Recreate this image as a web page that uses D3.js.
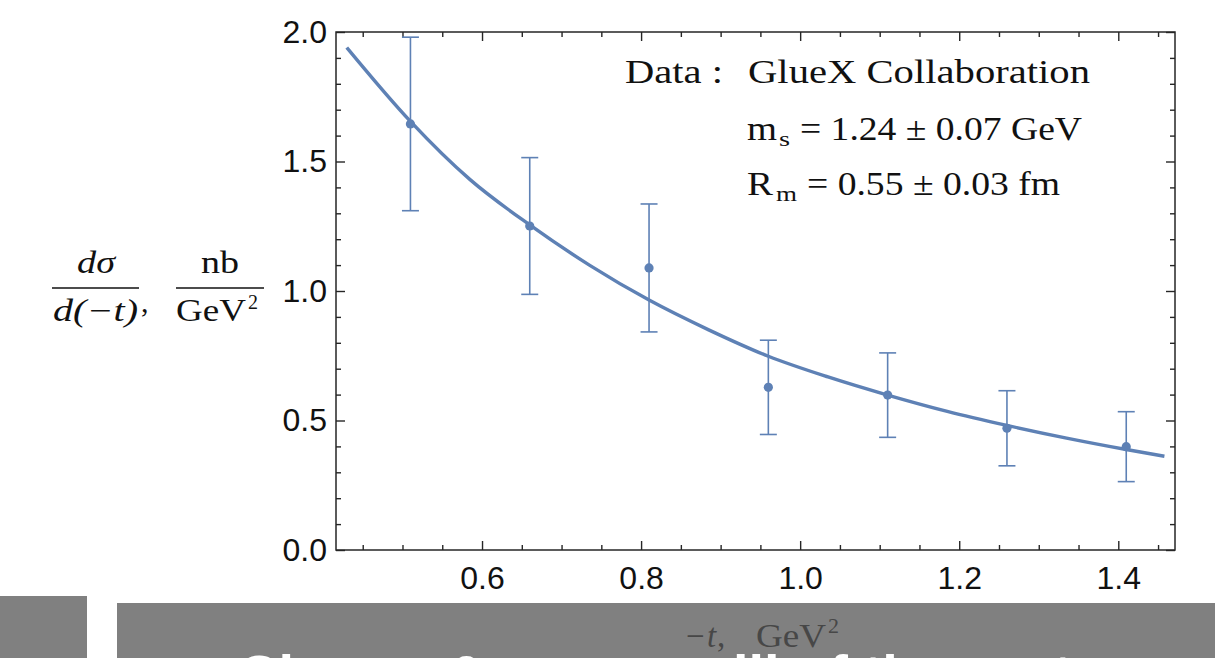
<!DOCTYPE html>
<html>
<head>
<meta charset="utf-8">
<script src="https://cdn.jsdelivr.net/npm/d3@7"></script>
<style>
  html, body { margin: 0; padding: 0; background: #fff; }
  svg { display: block; overflow: hidden; }
</style>
</head>
<body>
<div id="chart"></div>
<script>
// GlueX dσ/d(-t) data with fitted curve

// data points
const tVals   = [0.51, 0.66, 0.81, 0.96, 1.11, 1.26, 1.41];
const dsVals  = [1.645, 1.251, 1.089, 0.628, 0.598, 0.470, 0.399];
const dsErr   = [0.335, 0.264, 0.247, 0.182, 0.163, 0.145, 0.135];

// fit curve
const fitT    = [0.43, 0.51, 0.585, 0.66, 0.735, 0.81, 0.885, 0.96, 1.035, 1.11, 1.185, 1.26, 1.335, 1.41, 1.458];
const fitVals = [1.94, 1.655, 1.43, 1.255, 1.10, 0.965, 0.85, 0.748, 0.668, 0.598, 0.535, 0.481, 0.432, 0.388, 0.362];

// ticks
const xMajor = [0.6, 0.8, 1.0, 1.2, 1.4];
const yMajor = [0.0, 0.5, 1.0, 1.5, 2.0];
const xMinor = d3.range(0.45, 1.46, 0.05).map(v => +v.toFixed(2)).filter(v => !xMajor.some(m => Math.abs(m - v) < 1e-6));
const yMinor = d3.range(0.1, 2.0, 0.1).map(v => +v.toFixed(2)).filter(v => !yMajor.some(m => Math.abs(m - v) < 1e-6));

const W = 1215, H = 658;
const L = 336, R = 1175, T = 32, B = 550;
const blue = '#5E81B5';
const frameCol = '#262626';
const serif = '"Liberation Serif", "Times New Roman", serif';
const sans = '"Liberation Sans", Arial, sans-serif';

const svg = d3.select('#chart').append('svg').attr('width', W).attr('height', H);

const x = d3.scaleLinear().domain([0.4164, 1.4713]).range([L, R]);
const y = d3.scaleLinear().domain([0, 2]).range([B, T]);

// axes (ticks inward)
function styleAxis(g) {
  g.select('.domain').remove();
  g.selectAll('line').attr('stroke', frameCol).attr('stroke-width', 1.4);
  g.selectAll('text').attr('fill', '#111').style('font-family', sans).style('font-size', '32px');
}
svg.append('g').attr('transform', `translate(0,${B})`)
  .call(d3.axisBottom(x).tickValues(xMajor).tickSize(-9).tickPadding(16).tickFormat(d3.format('.1f')))
  .call(styleAxis).selectAll('text').attr('dy', '0.71em');
svg.append('g').attr('transform', `translate(0,${B})`)
  .call(d3.axisBottom(x).tickValues(xMinor).tickSize(-5).tickFormat(''))
  .call(styleAxis);
svg.append('g').attr('transform', `translate(0,${T})`)
  .call(d3.axisTop(x).tickValues(xMajor).tickSize(-9).tickFormat(''))
  .call(styleAxis);
svg.append('g').attr('transform', `translate(0,${T})`)
  .call(d3.axisTop(x).tickValues(xMinor).tickSize(-5).tickFormat(''))
  .call(styleAxis);
svg.append('g').attr('transform', `translate(${L},0)`)
  .call(d3.axisLeft(y).tickValues(yMajor).tickSize(-9).tickPadding(9).tickFormat(d3.format('.1f')))
  .call(styleAxis);
svg.append('g').attr('transform', `translate(${L},0)`)
  .call(d3.axisLeft(y).tickValues(yMinor).tickSize(-5).tickFormat(''))
  .call(styleAxis);
svg.append('g').attr('transform', `translate(${R},0)`)
  .call(d3.axisRight(y).tickValues(yMajor).tickSize(-9).tickFormat(''))
  .call(styleAxis);
svg.append('g').attr('transform', `translate(${R},0)`)
  .call(d3.axisRight(y).tickValues(yMinor).tickSize(-5).tickFormat(''))
  .call(styleAxis);

// frame
svg.append('rect').attr('x', L).attr('y', T).attr('width', R - L).attr('height', B - T)
  .attr('fill', 'none').attr('stroke', frameCol).attr('stroke-width', 1.5);

// fit curve
const fit = fitT.map((t, i) => [t, fitVals[i]]);
svg.append('path').datum(fit)
  .attr('d', d3.line().x(d => x(d[0])).y(d => y(d[1])).curve(d3.curveMonotoneX))
  .attr('fill', 'none').attr('stroke', blue).attr('stroke-width', 3.4);

// error bars and points
const pts = tVals.map((t, i) => ({ t, v: dsVals[i], e: dsErr[i] }));
const eb = svg.append('g').attr('stroke', blue).attr('stroke-width', 1.6).attr('fill', 'none');
eb.selectAll('line.v').data(pts).join('line').attr('class', 'v')
  .attr('x1', d => x(d.t)).attr('x2', d => x(d.t))
  .attr('y1', d => y(d.v - d.e)).attr('y2', d => y(d.v + d.e));
eb.selectAll('line.top').data(pts).join('line').attr('class', 'top')
  .attr('x1', d => x(d.t) - 8.5).attr('x2', d => x(d.t) + 8.5)
  .attr('y1', d => y(d.v + d.e)).attr('y2', d => y(d.v + d.e));
eb.selectAll('line.bot').data(pts).join('line').attr('class', 'bot')
  .attr('x1', d => x(d.t) - 8.5).attr('x2', d => x(d.t) + 8.5)
  .attr('y1', d => y(d.v - d.e)).attr('y2', d => y(d.v - d.e));
svg.append('g').selectAll('circle').data(pts).join('circle')
  .attr('cx', d => x(d.t)).attr('cy', d => y(d.v)).attr('r', 4.6).attr('fill', blue);

// annotation text
function txt(s, px, py, size, opts = {}) {
  const t = svg.append('text').attr('x', px).attr('y', py).text(s)
    .style('font-family', serif).style('font-size', size + 'px')
    .attr('fill', opts.fill || '#111');
  if (opts.italic) t.style('font-style', 'italic');
  if (opts.len) t.attr('textLength', opts.len).attr('lengthAdjust', 'spacingAndGlyphs');
  if (opts.anchor) t.attr('text-anchor', opts.anchor);
  return t;
}
txt('Data :', 625, 83, 33, { len: 98 });
txt('GlueX Collaboration', 748, 83, 33, { len: 342 });
txt('m', 747, 140, 33, { len: 30 });
txt('s', 779, 146, 22, { len: 11 });
txt('= 1.24 \u00b1 0.07 GeV', 800, 140, 33, { len: 282 });
txt('R', 747, 195, 33, { len: 26 });
txt('m', 776, 201, 22, { len: 21 });
txt('= 0.55 \u00b1 0.03 fm', 807, 195, 33, { len: 253 });

// y label (two fractions)
txt('d\u03c3', 96, 273, 31, { italic: true, anchor: 'middle', len: 38 });
txt('d(\u2212t)', 95.5, 321, 31, { italic: true, anchor: 'middle', len: 85 });
svg.append('line').attr('x1', 52).attr('x2', 139).attr('y1', 288).attr('y2', 288)
  .attr('stroke', '#111').attr('stroke-width', 1.3);
txt(',', 141, 312, 30);
txt('nb', 220, 273, 31, { anchor: 'middle', len: 38 });
txt('GeV', 211, 321, 31, { anchor: 'middle', len: 70 });
txt('2', 253, 309, 20, { anchor: 'middle' });
svg.append('line').attr('x1', 176).attr('x2', 264).attr('y1', 288).attr('y2', 288)
  .attr('stroke', '#111').attr('stroke-width', 1.3);

// slide overlay at the bottom
svg.append('rect').attr('x', 0).attr('y', 596).attr('width', 87).attr('height', 62).attr('fill', '#808080');
svg.append('rect').attr('x', 117).attr('y', 603).attr('width', W - 117).attr('height', 55).attr('fill', '#808080');
svg.append('text').attr('x', 238).attr('y', 694).text('Charge & mass radii of the proton')
  .style('font-family', sans).style('font-weight', 'bold').style('font-size', '56px').attr('fill', '#fff');

// x label (sits on the grey bar)
svg.append('text').attr('y', 647)
  .style('font-family', serif).style('font-size', '33px').attr('fill', '#474747')
  .call(t => {
    t.append('tspan').attr('x', 686).text('\u2212');
    t.append('tspan').attr('x', 707).style('font-style', 'italic').text('t');
    t.append('tspan').attr('x', 717).text(',');
    t.append('tspan').attr('x', 756).attr('textLength', 70).attr('lengthAdjust', 'spacingAndGlyphs').text('GeV');
    t.append('tspan').attr('x', 828).attr('dy', -14).style('font-size', '22px').text('2');
  });
</script>
</body>
</html>
